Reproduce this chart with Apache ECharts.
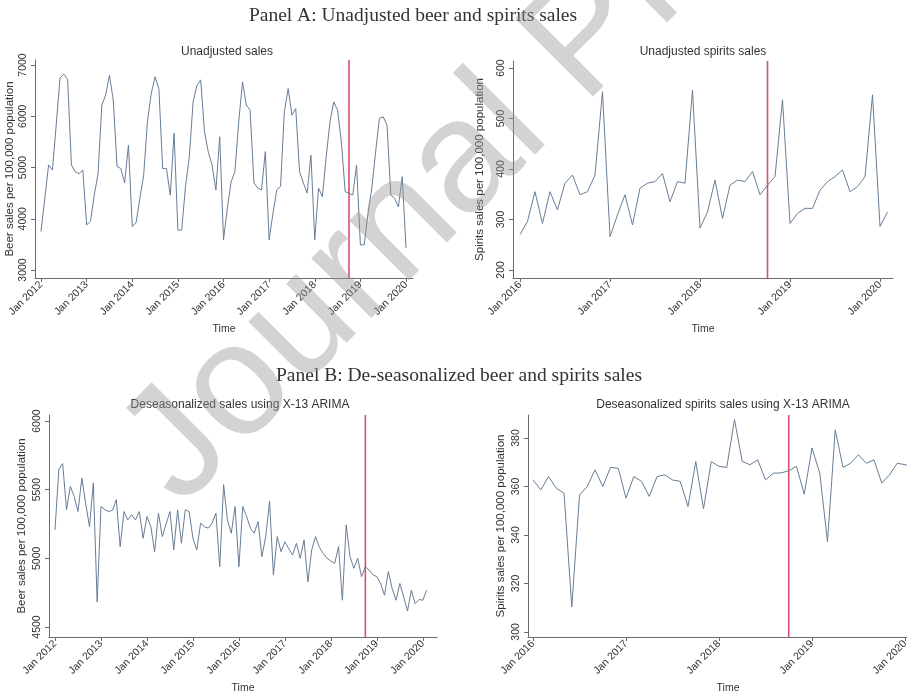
<!DOCTYPE html>
<html>
<head>
<meta charset="utf-8">
<script src="https://cdn.jsdelivr.net/npm/echarts@6/dist/echarts.min.js"></script>
<style>
html, body { margin: 0; padding: 0; background: #fff; }
#chart { width: 907px; height: 696px; }
</style>
</head>
<body>
<div id="chart"></div>
<script>
// beer sales per 100,000 population, monthly Jan 2012 - Jan 2020
const beerSales = [
  3750, 4400, 5050, 4950, 5830, 6750, 6820, 6720, 5050, 4920, 4880, 4950,
  3880, 3950, 4460, 4880, 6220, 6410, 6800, 6320, 5020, 4980, 4700, 5440,
  3850, 3920, 4400, 4850, 5900, 6450, 6770, 6540, 4980, 4980, 4460, 5670,
  3780, 3780, 4630, 5200, 6280, 6600, 6710, 5700, 5300, 5050, 4560, 5600,
  3590, 4200, 4720, 4920, 5890, 6670, 6220, 6120, 4700, 4600, 4560, 5310,
  3590, 4100, 4560, 4630, 6090, 6540, 6020, 6150, 4920, 4700, 4500, 5240,
  3590, 4600, 4430, 5200, 5890, 6280, 6120, 5500, 4530, 4500, 4460, 5050,
  3490, 3490, 4100, 4600, 5300, 5960, 5990, 5830, 4460, 4400, 4230, 4820,
  3430
];
// spirits sales per 100,000 population, monthly Jan 2016 - Feb 2020
const spiritsSales = [
  270, 296, 355, 292, 355, 319, 372, 388, 349, 355, 388, 553,
  266, 309, 349, 289, 362, 372, 375, 391, 335, 375, 372, 556,
  283, 315, 378, 302, 368, 378, 375, 395, 349, 368, 385, 537,
  292, 312, 322, 322, 358, 375, 385, 398, 355, 365, 385, 547,
  286, 315
];
// X-13 ARIMA de-seasonalized beer sales, Jan 2012 - Feb 2020
const beerDeseason = [
  5207, 5650, 5690, 5354, 5524, 5450, 5341, 5585, 5400, 5231, 5549, 4682,
  5378, 5354, 5341, 5350, 5427, 5085, 5341, 5280, 5317, 5280, 5341, 5146,
  5305, 5231, 5048, 5330, 5158, 5250, 5341, 5061, 5354, 5110, 5354, 5341,
  5146, 5061, 5256, 5230, 5220, 5256, 5330, 4939, 5537, 5280, 5183, 5378,
  4939, 5378, 5305, 5220, 5183, 5268, 5012, 5158, 5415, 4878, 5158, 5048,
  5121, 5070, 5024, 5110, 5000, 5134, 4829, 5061, 5158, 5080, 5036, 5000,
  4980, 4963, 5085, 4695, 5244, 5012, 4927, 5000, 4866, 4939, 4915, 4880,
  4866, 4817, 4731, 4903, 4780, 4695, 4817, 4719, 4616, 4768, 4670, 4700,
  4695, 4768
];
// X-13 ARIMA de-seasonalized spirits sales, Jan 2016 - Feb 2020
const spiritsDeseason = [
  362.7, 358.6, 364.1, 359.3, 357.2, 310.3, 356.5, 360.0, 366.9, 360.0, 367.9, 367.5,
  355.2, 364.1, 362.1, 355.9, 364.1, 364.8, 362.7, 362.1, 351.7, 370.3, 350.8, 370.3,
  368.3, 367.9, 387.6, 370.3, 369.0, 371.0, 362.7, 365.5, 365.6, 366.5, 368.3, 356.8,
  375.9, 365.6, 337.2, 383.4, 367.9, 369.6, 373.1, 369.6, 371.0, 361.4, 364.8, 369.6,
  369.0, 368.0
];

const beerYears = [2012, 2013, 2014, 2015, 2016, 2017, 2018, 2019, 2020];
const spiritsYears = [2016, 2017, 2018, 2019, 2020];
const beerTicks = [3000, 4000, 5000, 6000, 7000];
const spiritsTicks = [200, 300, 400, 500, 600];
const beerDsTicks = [4500, 5000, 5500, 6000];
const spiritsDsTicks = [300, 320, 340, 360, 380];
const legalization = { year: 2018, month: 10 }; // red line

const sans = '"Liberation Sans", Arial, sans-serif';
const serif = '"Liberation Serif", "Times New Roman", serif';
const lineColor = '#687d96';
const axisColor = '#6b6b6b';
const redColor = '#d8506e';

// x/y ranges of each panel (months from first January; sales)
const panels = [
  { start: 2012, years: beerYears, xMin: -1.58, xMax: 97.84, ticks: beerTicks, yMin: 2844, yMax: 7098,
    values: beerSales, name: 'Beer sales per 100,000 population', gap: 19 },
  { start: 2016, years: spiritsYears, xMin: -0.93, xMax: 49.73, ticks: spiritsTicks, yMin: 184, yMax: 614,
    values: spiritsSales, name: 'Spirits sales per 100,000 population', gap: 27 },
  { start: 2012, years: beerYears, xMin: -1.57, xMax: 99.7, ticks: beerDsTicks, yMin: 4427, yMax: 6044,
    values: beerDeseason, name: 'Beer sales per 100,000 population', gap: 21 },
  { start: 2016, years: spiritsYears, xMin: -0.65, xMax: 50.97, ticks: spiritsDsTicks, yMin: 297.9, yMax: 389.5,
    values: spiritsDeseason, name: 'Spirits sales per 100,000 population', gap: 21 }
];

function monthIndex(startYear) {
  return (legalization.year - startYear) * 12 + legalization.month - 1;
}

function xAxisOf(p, idx) {
  const ticks = p.years.map(y => (y - p.start) * 12);
  return {
    type: 'value', gridIndex: idx, min: p.xMin, max: p.xMax,
    name: 'Time', nameLocation: 'middle', nameGap: 46,
    nameTextStyle: { fontFamily: sans, fontSize: 10.5, color: '#333' },
    axisLine: { onZero: false, lineStyle: { color: axisColor, width: 1 } },
    axisTick: { customValues: ticks, length: 4, lineStyle: { color: axisColor } },
    axisLabel: {
      customValues: ticks, rotate: 45, margin: 5,
      fontFamily: sans, fontSize: 10.5, color: '#333',
      formatter: v => 'Jan ' + (p.start + Math.round(v / 12))
    },
    splitLine: { show: false }
  };
}

function yAxisOf(p, idx) {
  return {
    type: 'value', gridIndex: idx, min: p.yMin, max: p.yMax,
    name: p.name, nameLocation: 'middle', nameGap: p.gap,
    nameTextStyle: { fontFamily: sans, fontSize: 11.5, color: '#333' },
    axisLine: { show: true, onZero: false, lineStyle: { color: axisColor, width: 1 } },
    axisTick: { show: true, customValues: p.ticks, length: 4, lineStyle: { color: axisColor } },
    axisLabel: {
      customValues: p.ticks, rotate: 90, margin: 6,
      fontFamily: sans, fontSize: 10.5, color: '#333',
      formatter: v => String(v)
    },
    splitLine: { show: false }
  };
}

const series = [];
panels.forEach((p, idx) => {
  const ev = monthIndex(p.start);
  series.push({
    type: 'line', xAxisIndex: idx, yAxisIndex: idx,
    data: [[ev, p.yMin], [ev, p.yMax]],
    showSymbol: false, symbol: 'none', silent: true, z: 1,
    color: redColor,
    lineStyle: { color: redColor, width: 1.6 }
  });
  series.push({
    type: 'line', xAxisIndex: idx, yAxisIndex: idx,
    data: p.values.map((v, i) => [i, v]),
    showSymbol: false, symbol: 'none', silent: true, z: 2,
    color: lineColor,
    lineStyle: { color: lineColor, width: 1 }
  });
});

function label(text, x, y, size, font) {
  return {
    type: 'text', x: x, y: y, silent: true,
    style: {
      text: text, fontFamily: font || sans, fontSize: size, fill: '#333',
      textAlign: 'center', textVerticalAlign: 'middle'
    }
  };
}

const chart = echarts.init(document.getElementById('chart'));
chart.setOption({
  backgroundColor: '#fff',
  animation: false,
  grid: [
    { left: 35, top: 60, width: 378, height: 218, outerBoundsMode: 'none' },
    { left: 513, top: 61, width: 380, height: 217, outerBoundsMode: 'none' },
    { left: 49, top: 415, width: 388, height: 222, outerBoundsMode: 'none' },
    { left: 528, top: 415, width: 400, height: 222, outerBoundsMode: 'none' }
  ],
  xAxis: panels.map(xAxisOf),
  yAxis: panels.map(yAxisOf),
  series: series,
  graphic: [
    label('Panel A: Unadjusted beer and spirits sales', 413, 16, 19.5, serif),
    label('Panel B: De-seasonalized beer and spirits sales', 459, 376, 19.5, serif),
    label('Unadjusted sales', 227, 52, 12),
    label('Unadjusted spirits sales', 703, 52, 12),
    label('Deseasonalized sales using X-13 ARIMA', 240, 405, 12),
    label('Deseasonalized spirits sales using X-13 ARIMA', 723, 405, 12),
    {
      type: 'text', x: 150, y: 477, rotation: Math.PI / 4, silent: true, z: 100,
      style: {
        text: 'Journal Pre-proof', fontFamily: sans, fontSize: 160,
        fill: 'rgba(150,150,150,0.42)', textAlign: 'left', textVerticalAlign: 'middle'
      }
    }
  ]
});
</script>
</body>
</html>
